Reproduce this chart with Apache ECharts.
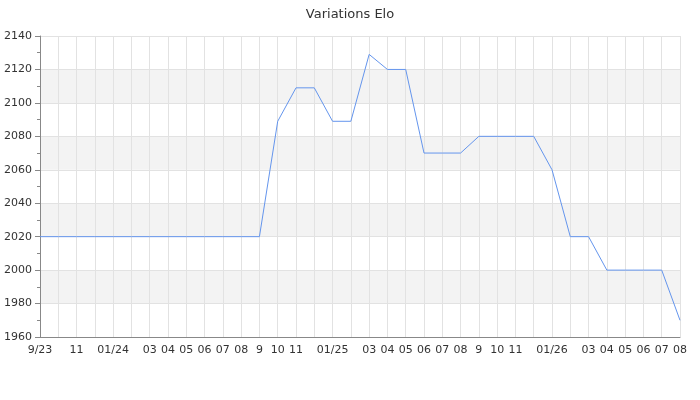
<!DOCTYPE html>
<html>
<head>
<meta charset="utf-8">
<script src="https://cdn.jsdelivr.net/npm/echarts@6/dist/echarts.min.js"></script>
<style>html,body{margin:0;padding:0;background:#fff}#c{width:700px;height:400px}</style>
</head>
<body>
<div id="c"></div>
<script>
var categories = ['9/23','10','11','12','01/24','02','03','04','05','06','07','08','9','10','11','12','01/25','02','03','04','05','06','07','08','9','10','11','12','01/26','02','03','04','05','06','07','08'];
var tickLabels = ['9/23','','11','','01/24','','03','04','05','06','07','08','9','10','11','','01/25','','03','04','05','06','07','08','9','10','11','','01/26','','03','04','05','06','07','08'];
var elo = [2020,2020,2020,2020,2020,2020,2020,2020,2020,2020,2020,2020,2020,2089,2109,2109,2089,2089,2129,2120,2120,2070,2070,2070,2080,2080,2080,2080,2060,2020,2020,2000,2000,2000,2000,1970];
var yMin = 1960, yMax = 2140, yStep = 20;

var chart = echarts.init(document.getElementById('c'), null, {renderer: 'canvas'});
chart.setOption({
  animation: false,
  backgroundColor: '#fff',
  textStyle: {fontFamily: 'DejaVu Sans'},
  title: {
    text: 'Variations Elo', left: 'center', top: 3,
    textStyle: {fontSize: 13, fontWeight: 'normal', color: '#333', fontFamily: 'DejaVu Sans'}
  },
  grid: {left: 40, right: 20, top: 36, bottom: 63, containLabel: false},
  xAxis: {
    type: 'category', data: categories, boundaryGap: false,
    axisLine: {lineStyle: {color: '#888'}},
    axisTick: {show: false},
    axisLabel: {interval: 0, color: '#333', fontSize: 11, margin: 8,
      formatter: function (v, i) { return tickLabels[i]; }},
    splitLine: {show: true, interval: 0, lineStyle: {color: '#e2e2e2', width: 1}}
  },
  yAxis: {
    type: 'value', min: yMin, max: yMax, interval: yStep,
    axisLine: {show: true, lineStyle: {color: '#888'}},
    axisTick: {show: true, length: 5, lineStyle: {color: '#888'}},
    minorTick: {show: true, splitNumber: 2, length: 3, lineStyle: {color: '#888'}},
    axisLabel: {color: '#333', fontSize: 11, margin: 8, formatter: function (v) { return String(v); }},
    splitLine: {show: true, lineStyle: {color: '#e2e2e2'}},
    splitArea: {show: true, areaStyle: {color: ['#ffffff', '#f3f3f3']}}
  },
  series: [{
    type: 'line', data: elo, showSymbol: false, symbol: 'none',
    lineStyle: {color: '#6495ed', width: 1}
  }]
});
</script>
</body>
</html>
